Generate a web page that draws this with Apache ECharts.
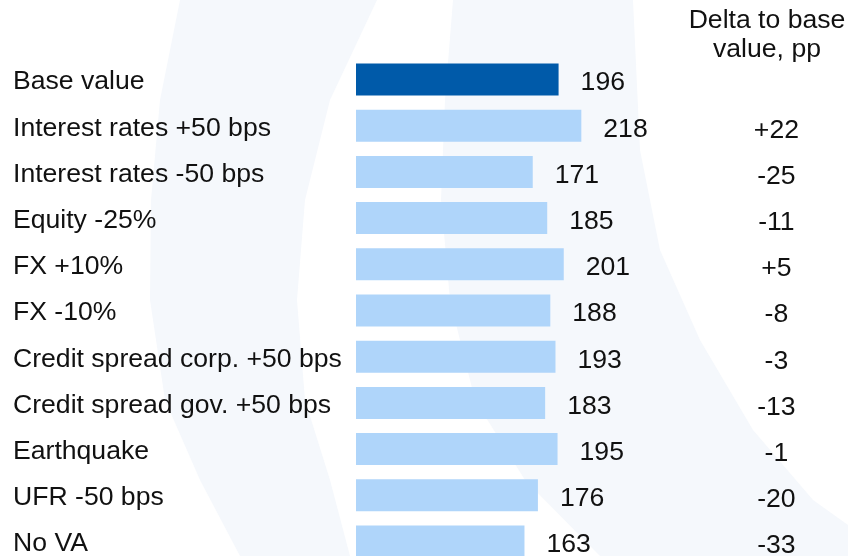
<!DOCTYPE html>
<html>
<head>
<meta charset="utf-8">
<script src="https://cdn.jsdelivr.net/npm/echarts@6/dist/echarts.min.js"></script>
<style>
  html, body { margin: 0; padding: 0; background: #fff; }
  #main { width: 848px; height: 556px; }
</style>
</head>
<body>
<div id="main"></div>
<script>
  // scenario names, top to bottom
  var categories = ['Base value', 'Interest rates +50 bps', 'Interest rates -50 bps', 'Equity -25%',
    'FX +10%', 'FX -10%', 'Credit spread corp. +50 bps', 'Credit spread gov. +50 bps',
    'Earthquake', 'UFR -50 bps', 'No VA'];
  // ratio values
  var values = [196, 218, 171, 185, 201, 188, 193, 183, 195, 176, 163];
  // delta to base value, pp (right column)
  var deltas = ['', '+22', '-25', '-11', '+5', '-8', '-3', '-13', '-1', '-20', '-33'];

  var FONT = '"Liberation Sans", Arial, sans-serif';
  var FS = 26.6;
  var TXT = '#111111';
  var SWOOSH = '#f5f8fc';

  var myChart = echarts.init(document.getElementById('main'), null, {renderer: 'canvas'});

  var barData = [];
  for (var i = 0; i < values.length; i++) {
    barData.push({
      value: values[i],
      itemStyle: {color: i == 0 ? '#005aa9' : '#afd5fa'}
    });
  }

  var option = {
    backgroundColor: '#ffffff',
    animation: false,
    graphic: [
      // faint watermark swooshes in the background
      {
        type: 'polygon', z: -10, silent: true,
        shape: {
          points: [[180, 0], [160, 100], [151, 200], [150, 300], [165, 400], [200, 480], [240, 556],
                   [350, 556], [330, 480], [305, 400], [297, 300], [305, 200], [330, 100], [377, 0]]
        },
        style: {fill: SWOOSH}
      },
      {
        type: 'polygon', z: -10, silent: true,
        shape: {
          points: [[453, 0], [445, 100], [441, 200], [450, 300], [475, 400], [525, 480], [600, 556],
                   [848, 556], [848, 525], [813, 500], [753, 430], [700, 340], [660, 250],
                   [640, 150], [633, 0]]
        },
        style: {fill: SWOOSH}
      },
      {
        type: 'text', x: 767, y: 35, silent: true,
        style: {
          text: 'Delta to base\nvalue, pp',
          align: 'center', verticalAlign: 'middle',
          lineHeight: 29, fill: TXT,
          font: FS + 'px ' + FONT
        }
      }
    ],
    grid: {left: 356, top: 56.4, width: 258.4, height: 508.2, containLabel: false, outerBoundsMode: 'none'},
    xAxis: {
      type: 'value', min: 0, max: 250,
      show: false
    },
    yAxis: [
      {
        type: 'category', inverse: true, data: categories,
        axisLine: {show: false}, axisTick: {show: false}, splitLine: {show: false},
        axisLabel: {
          align: 'left', margin: 343,
          formatter: function (v) { return '{a|' + v + '}'; },
          rich: {a: {padding: [5, 0, 0, 0], color: TXT, fontFamily: FONT, fontSize: FS}}
        }
      },
      {
        type: 'category', inverse: true, position: 'right', data: deltas,
        axisLine: {show: false}, axisTick: {show: false}, splitLine: {show: false},
        axisLabel: {
          align: 'center', margin: 162,
          formatter: function (v) { return v ? '{a|' + v + '}' : ''; },
          rich: {a: {padding: [9, 0, 0, 0], color: TXT, fontFamily: FONT, fontSize: FS}}
        }
      }
    ],
    series: [{
      type: 'bar',
      data: barData,
      barWidth: 32,
      label: {
        show: true, position: 'right', distance: 22,
        offset: [0, 3.5],
        color: TXT, fontFamily: FONT, fontSize: FS
      }
    }]
  };

  myChart.setOption(option);
</script>
</body>
</html>
